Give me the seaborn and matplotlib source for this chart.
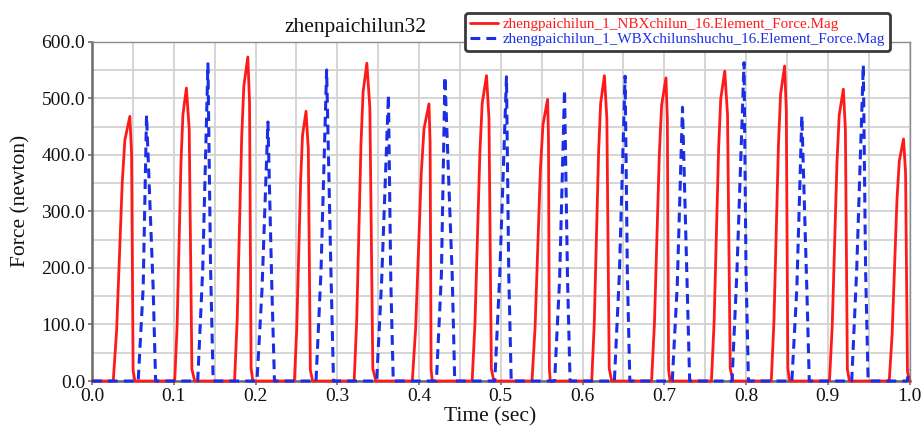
import matplotlib
matplotlib.use("Agg")
import matplotlib.pyplot as plt
import seaborn as sns
import pandas as pd
from matplotlib.ticker import MultipleLocator, FormatStrFormatter

# Contact force traces, one polyline per gear pair (time in s, force in N)
red_time = [
    0.0,
    0.0260, 0.0301, 0.0370, 0.0402, 0.0463, 0.0484, 0.0503, 0.0524,
    0.1012, 0.1041, 0.1089, 0.1112, 0.1155, 0.1189, 0.1222, 0.1256,
    0.1744, 0.1776, 0.1831, 0.1857, 0.1906, 0.1927, 0.1946, 0.1967,
    0.2476, 0.2504, 0.2553, 0.2575, 0.2618, 0.2646, 0.2671, 0.2699,
    0.3207, 0.3238, 0.3291, 0.3316, 0.3362, 0.3399, 0.3435, 0.3472,
    0.3918, 0.3959, 0.4028, 0.4061, 0.4122, 0.4136, 0.4148, 0.4162,
    0.4650, 0.4685, 0.4745, 0.4773, 0.4826, 0.4856, 0.4885, 0.4915,
    0.5382, 0.5420, 0.5485, 0.5516, 0.5573, 0.5584, 0.5595, 0.5606,
    0.6113, 0.6144, 0.6197, 0.6222, 0.6268, 0.6298, 0.6327, 0.6357,
    0.6845, 0.6880, 0.6940, 0.6968, 0.7021, 0.7038, 0.7053, 0.7070,
    0.7577, 0.7610, 0.7665, 0.7691, 0.7740, 0.7774, 0.7807, 0.7841,
    0.8309, 0.8342, 0.8397, 0.8423, 0.8472, 0.8493, 0.8512, 0.8533,
    0.9021, 0.9055, 0.9113, 0.9140, 0.9191, 0.9216, 0.9240, 0.9265,
    0.9752, 0.9787, 0.9847, 0.9875, 0.9927, 0.9952, 0.9975, 1.0,
]
red_force = [
    0,
    0, 89, 351, 426, 468, 402, 19, 0,
    0, 98, 389, 471, 518, 445, 21, 0,
    0, 109, 430, 521, 573, 493, 23, 0,
    0, 91, 358, 434, 477, 410, 19, 0,
    0, 107, 422, 511, 562, 483, 22, 0,
    0, 93, 368, 446, 490, 421, 20, 0,
    0, 103, 405, 491, 540, 464, 22, 0,
    0, 95, 374, 453, 498, 428, 20, 0,
    0, 103, 405, 491, 540, 464, 22, 0,
    0, 102, 402, 488, 536, 461, 21, 0,
    0, 104, 411, 499, 548, 471, 22, 0,
    0, 106, 418, 507, 557, 479, 22, 0,
    0, 98, 387, 470, 516, 444, 21, 0,
    0, 81, 321, 389, 428, 368, 17, 0,
]

blue_time = [
    0.0,
    0.0565, 0.0626, 0.0667, 0.0748, 0.0778,
    0.1293, 0.1354, 0.1418, 0.1451, 0.1482,
    0.2018, 0.2079, 0.2152, 0.2201, 0.2232,
    0.2740, 0.2801, 0.2870, 0.2923, 0.2954,
    0.3482, 0.3543, 0.3626, 0.3655, 0.3685,
    0.4213, 0.4274, 0.4317, 0.4406, 0.4437,
    0.4927, 0.4988, 0.5070, 0.5098, 0.5128,
    0.5659, 0.5720, 0.5780, 0.5817, 0.5848,
    0.6390, 0.6451, 0.6521, 0.6549, 0.6579,
    0.7098, 0.7159, 0.7223, 0.7280, 0.7311,
    0.7829, 0.7890, 0.7976, 0.8000, 0.8030,
    0.8561, 0.8622, 0.8683, 0.8744, 0.8774,
    0.9293, 0.9354, 0.9435, 0.9463, 0.9494,
    0.9970, 1.0,
]
blue_force = [
    0,
    0, 165, 470, 165, 0,
    0, 196, 561, 196, 0,
    0, 160, 458, 160, 0,
    0, 193, 550, 193, 0,
    0, 177, 506, 177, 0,
    0, 188, 538, 188, 0,
    0, 188, 538, 188, 0,
    0, 180, 515, 180, 0,
    0, 189, 539, 189, 0,
    0, 169, 484, 169, 0,
    0, 197, 563, 197, 0,
    0, 164, 469, 164, 0,
    0, 196, 559, 196, 0,
    0, 20,
]

series_names = [
    "zhengpaichilun_1_NBXchilun_16.Element_Force.Mag",
    "zhengpaichilun_1_WBXchilunshuchu_16.Element_Force.Mag",
]
chart_title = "zhenpaichilun32"
x_label = "Time (sec)"
y_label = "Force (newton)"

red_df = pd.DataFrame({"time": red_time, "force": red_force})
blue_df = pd.DataFrame({"time": blue_time, "force": blue_force})

sns.set_theme(style="white")
plt.rcParams["font.family"] = ["Liberation Serif", "DejaVu Serif"]

fig = plt.figure(figsize=(9.22, 4.30), dpi=100)
ax = fig.add_axes([92 / 922, 1 - 381 / 430, 817.5 / 922, 339.3 / 430])

RED = "#ff1a1a"
BLUE = "#1a2ee6"

sns.lineplot(data=red_df, x="time", y="force", ax=ax, color=RED, lw=2.0,
             sort=False, estimator=None, label=series_names[0], clip_on=False, zorder=3)
sns.lineplot(data=blue_df, x="time", y="force", ax=ax, color=BLUE, lw=2.2,
             sort=False, estimator=None, label=series_names[1], clip_on=False, zorder=4,
             dashes=False)
blue_line = ax.lines[-1]
blue_line.set_linestyle((0, (3.2, 2.0)))

ax.set_xlim(0, 1.0)
ax.set_ylim(0, 600)
ax.xaxis.set_major_locator(MultipleLocator(0.1))
ax.xaxis.set_minor_locator(MultipleLocator(0.05))
ax.yaxis.set_major_locator(MultipleLocator(100))
ax.yaxis.set_minor_locator(MultipleLocator(50))
ax.xaxis.set_major_formatter(FormatStrFormatter("%.1f"))
ax.yaxis.set_major_formatter(FormatStrFormatter("%.1f"))

ax.grid(which="both", color="#d2d2d2", lw=1.3, zorder=0)
ax.set_axisbelow(True)

ax.tick_params(axis="both", which="major", direction="out", length=3, width=1.2,
               color="#707070", labelsize=14, pad=2, labelcolor="#111111",
               bottom=True, left=True)
ax.tick_params(axis="both", which="minor", length=0)

for side in ("left", "bottom"):
    ax.spines[side].set_color("#6a6a6a")
    ax.spines[side].set_linewidth(1.8)
for side in ("top", "right"):
    ax.spines[side].set_color("#8a8a8a")
    ax.spines[side].set_linewidth(1.0)

ax.set_xlabel(x_label, fontsize=15.5, color="#111111")
ax.set_ylabel(y_label, fontsize=15.5, color="#111111")
ax.xaxis.set_label_coords(0.487, -0.078)
ax.yaxis.set_label_coords(-0.075, 0.53)

ax.set_title(chart_title, fontsize=15.5, x=0.322, pad=7, color="#111111")

leg = ax.legend(loc="upper right", bbox_to_anchor=(0.976, 1.085), borderaxespad=0,
                fontsize=10.9, frameon=True, fancybox=True, framealpha=1,
                handlelength=1.9, handletextpad=0.3, labelspacing=0.12,
                borderpad=0.3)
leg.get_frame().set_edgecolor("#3a3a3a")
leg.get_frame().set_linewidth(2.0)
leg.get_frame().set_facecolor("white")
leg.set_zorder(10)
for txt, col in zip(leg.get_texts(), [RED, BLUE]):
    txt.set_color(col)

fig.savefig("out.png", dpi=100)
